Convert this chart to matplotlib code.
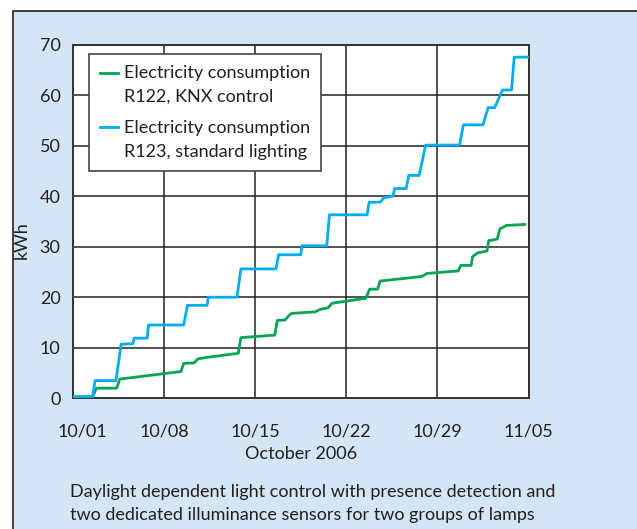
import matplotlib
matplotlib.use("Agg")
import matplotlib.pyplot as plt
from matplotlib.patches import Rectangle
import matplotlib.transforms as mtransforms
import numpy as np

# ---- data (day offset from 10/01/2006, kWh) ----
blue_days = [0, 1.5, 1.7, 3.3, 3.7, 4.6, 4.7, 5.7, 5.8, 8.5, 8.8, 10.3, 10.4, 12.6, 12.9,
             15.6, 15.8, 17.5, 17.6, 19.5, 19.7, 22.6, 22.75, 23.6, 23.9, 24.6, 24.7,
             25.6, 25.8, 26.6, 27.1, 29.7, 30.0, 31.5, 31.9, 32.4, 33.0, 33.7, 33.9, 35.0]
blue_kwh = [0.3, 0.3, 3.5, 3.5, 10.7, 10.8, 11.9, 11.9, 14.5, 14.5, 18.4, 18.4, 20.0, 20.0, 25.6,
            25.6, 28.4, 28.4, 30.2, 30.2, 36.3, 36.3, 38.8, 38.8, 39.7, 40.0, 41.5,
            41.5, 44.1, 44.1, 50.1, 50.1, 54.1, 54.1, 57.5, 57.5, 61.0, 61.0, 67.5, 67.5]

green_days = [0, 1.5, 1.8, 3.35, 3.6, 8.3, 8.5, 9.3, 9.6, 10.3, 12.7, 12.9, 15.5, 15.7,
              16.3, 16.6, 16.8, 18.6, 19.0, 19.6, 19.9, 22.5, 22.8, 23.4, 23.6, 26.8,
              27.2, 29.6, 29.8, 30.6, 30.7, 31.1, 31.8, 31.95, 32.6, 32.8, 33.3, 34.7]
green_kwh = [0.3, 0.3, 2.0, 2.0, 3.8, 5.3, 6.9, 7.0, 7.8, 8.1, 8.9, 12.0, 12.5, 15.4,
             15.5, 16.4, 16.8, 17.1, 17.6, 17.9, 18.8, 19.8, 21.6, 21.6, 23.2, 24.1,
             24.7, 25.2, 26.3, 26.3, 28.0, 28.8, 29.1, 31.2, 31.5, 33.5, 34.2, 34.4]

tick_days = [0, 7, 14, 21, 28, 35]
tick_labels = ["10/01", "10/08", "10/15", "10/22", "10/29", "11/05"]
y_ticks = [0, 10, 20, 30, 40, 50, 60, 70]

labels = ["Electricity consumption\nR122, KNX control",
          "Electricity consumption\nR123, standard lighting"]
caption = ("Daylight dependent light control with presence detection and\n"
           "two dedicated illuminance sensors for two groups of lamps")

GREEN = "#00a651"
BLUE = "#00aeef"
BG = "#d4e6f5"
TXT = "#231f20"

plt.rcParams['font.family'] = ['Lato', 'DejaVu Sans']
FS = 13

fig = plt.figure(figsize=(6.37, 5.29), dpi=100, facecolor="white")
bgrect = Rectangle((12.5 / 637, -0.05), 1.2, (529 - 10.5) / 529 + 0.05,
                   transform=fig.transFigure, facecolor=BG,
                   edgecolor="#222222", lw=1.2, zorder=-10)
fig.add_artist(bgrect)

ax = fig.add_axes([73 / 637, (529 - 398.3) / 529, (528.5 - 73) / 637, (398.3 - 44.5) / 529])
ax.set_zorder(1)
ax.set_facecolor("white")
ax.plot(green_days, green_kwh, color=GREEN, lw=2.0, label=labels[0], zorder=3)
ax.plot(blue_days, blue_kwh, color=BLUE, lw=2.0, label=labels[1], zorder=3)

ax.set_xlim(0, 35)
ax.set_ylim(0, 70)
ax.set_xticks(tick_days)
ax.set_xticklabels(tick_labels)
ax.set_yticks(y_ticks)
ax.tick_params(length=0, labelsize=FS, colors=TXT)
ax.tick_params(axis='x', pad=18)
ax.tick_params(axis='y', pad=9)
ax.grid(True, color="#222222", lw=1.1)
ax.set_axisbelow(True)
for s in ax.spines.values():
    s.set_color("#333333")
    s.set_linewidth(1.4)

# shift first x label a bit to the right as in the original
lab0 = ax.get_xticklabels()[0]
lab0.set_transform(lab0.get_transform() + mtransforms.ScaledTranslation(9 / 100, 0, fig.dpi_scale_trans))

ax.set_xlabel("October 2006", fontsize=FS, color=TXT, labelpad=5)
fig.text(22 / 637, 1 - 240 / 529, "kWh", rotation=90, fontsize=FS, color=TXT,
         ha="center", va="center")

leg = ax.legend(loc="upper left", bbox_to_anchor=(0.035, 0.973), borderaxespad=0,
                fancybox=False, framealpha=1, edgecolor="#444444", fontsize=FS,
                handlelength=1.0, handletextpad=0.35, labelspacing=0.8,
                borderpad=0.6, labelcolor=TXT)
leg.get_frame().set_linewidth(1.2)
for t in leg.get_texts():
    t.set_linespacing(1.63)
# align legend handles with the first line of each label
for ln in leg.get_lines():
    ln.set_ydata(np.asarray(ln.get_ydata()) + 9.0)

fig.text(70 / 637, 1 - 503.5 / 529, caption, fontsize=FS, color=TXT, ha="left",
         va="center", linespacing=1.55)

fig.savefig("out.png", dpi=100, facecolor=fig.get_facecolor())
